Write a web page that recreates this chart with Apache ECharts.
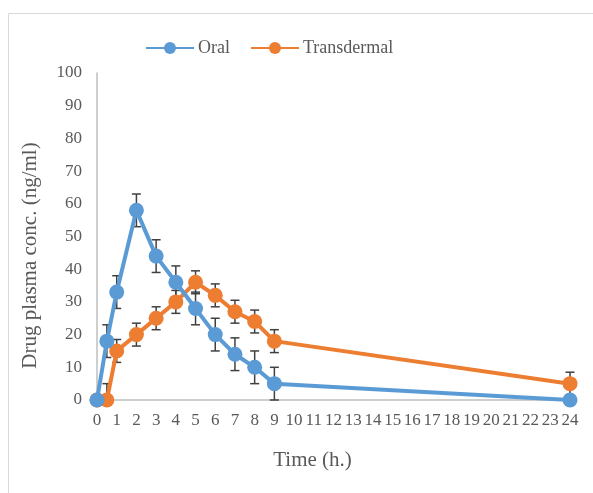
<!DOCTYPE html>
<html>
<head>
<meta charset="utf-8">
<script src="https://cdn.jsdelivr.net/npm/echarts@6/dist/echarts.min.js"></script>
<style>
  html, body { margin: 0; padding: 0; background: #fff; }
  #main { width: 593px; height: 493px; }
</style>
</head>
<body>
<div id="main"></div>
<script>
// sampling times (h.)
var times = [0, 0.5, 1, 2, 3, 4, 5, 6, 7, 8, 9, 24];
var oral = [0, 18, 33, 58, 44, 36, 28, 20, 14, 10, 5, 0];
var oralErr = [0, 5, 5, 5, 5, 5, 5, 5, 5, 5, 5, 0];
var transdermal = [0, 0, 15, 20, 25, 30, 36, 32, 27, 24, 18, 5];
var transErr = [0, 5, 3.5, 3.5, 3.5, 3.5, 3.5, 3.5, 3.5, 3.5, 3.5, 3.5];
var seriesNames = ['Oral', 'Transdermal'];
var colors = ['#5B9BD5', '#ED7D31'];

function pairs(ys) {
    return times.map(function (t, i) { return [t, ys[i]]; });
}
function errData(ys, errs) {
    var out = [];
    times.forEach(function (t, i) {
        if (errs[i] > 0) out.push([t, Math.max(0, ys[i] - errs[i]), ys[i] + errs[i]]);
    });
    return out;
}
function errRender(params, api) {
    var lo = api.coord([api.value(0), api.value(1)]);
    var hi = api.coord([api.value(0), api.value(2)]);
    var w = 4.5;
    var st = { stroke: '#404040', lineWidth: 1.5 };
    return {
        type: 'group',
        children: [
            { type: 'line', shape: { x1: lo[0], y1: lo[1], x2: hi[0], y2: hi[1] }, style: st },
            { type: 'line', shape: { x1: hi[0] - w, y1: hi[1], x2: hi[0] + w, y2: hi[1] }, style: st },
            { type: 'line', shape: { x1: lo[0] - w, y1: lo[1], x2: lo[0] + w, y2: lo[1] }, style: st }
        ]
    };
}

var chartDom = document.getElementById('main');
var myChart = echarts.init(chartDom);
var font = 'Liberation Serif';
var option;

option = {
    animation: false,
    textStyle: { fontFamily: font },
    graphic: [{
        type: 'rect',
        shape: { x: 8.5, y: 13.5, width: 700, height: 600 },
        style: { fill: 'none', stroke: '#d9d9d9', lineWidth: 1 },
        silent: true
    }],
    legend: {
        top: 39,
        left: 145,
        padding: 0,
        itemWidth: 48,
        itemHeight: 15,
        itemGap: 20,
        data: seriesNames,
        textStyle: { fontFamily: font, fontSize: 18, color: '#595959', padding: [0, 0, 0, -1] }
    },
    grid: { left: 97, right: 23, top: 73, bottom: 93 },
    xAxis: {
        type: 'value',
        min: 0,
        max: 24,
        interval: 1,
        name: 'Time (h.)',
        nameLocation: 'middle',
        nameGap: 50,
        nameTextStyle: { fontFamily: font, fontSize: 21, color: '#595959', padding: [0, 42, 0, 0] },
        axisLine: { show: true, lineStyle: { color: '#bfbfbf', width: 1.5 } },
        axisTick: { show: false },
        splitLine: { show: false },
        axisLabel: { fontFamily: font, fontSize: 17, color: '#595959', margin: 12, hideOverlap: false }
    },
    yAxis: {
        type: 'value',
        min: 0,
        max: 100,
        interval: 10,
        name: 'Drug plasma conc. (ng/ml)',
        nameLocation: 'middle',
        nameGap: 56,
        nameTextStyle: { fontFamily: font, fontSize: 21, color: '#595959', padding: [0, 38, 0, 0] },
        axisLine: { show: true, lineStyle: { color: '#bfbfbf', width: 1.5 } },
        axisTick: { show: false },
        splitLine: { show: false },
        axisLabel: { fontFamily: font, fontSize: 17, color: '#595959', margin: 15 }
    },
    series: [
        {
            type: 'custom',
            name: 'oralErr',
            renderItem: errRender,
            data: errData(oral, oralErr),
            z: 1,
            silent: true
        },
        {
            type: 'custom',
            name: 'transErr',
            renderItem: errRender,
            data: errData(transdermal, transErr),
            z: 1,
            silent: true
        },
        {
            name: seriesNames[0],
            type: 'line',
            data: pairs(oral),
            color: colors[0],
            symbol: 'circle',
            symbolSize: 15,
            lineStyle: { width: 4 },
            z: 3
        },
        {
            name: seriesNames[1],
            type: 'line',
            data: pairs(transdermal),
            color: colors[1],
            symbol: 'circle',
            symbolSize: 15,
            lineStyle: { width: 4 },
            z: 2
        }
    ]
};

option && myChart.setOption(option);
</script>
</body>
</html>
